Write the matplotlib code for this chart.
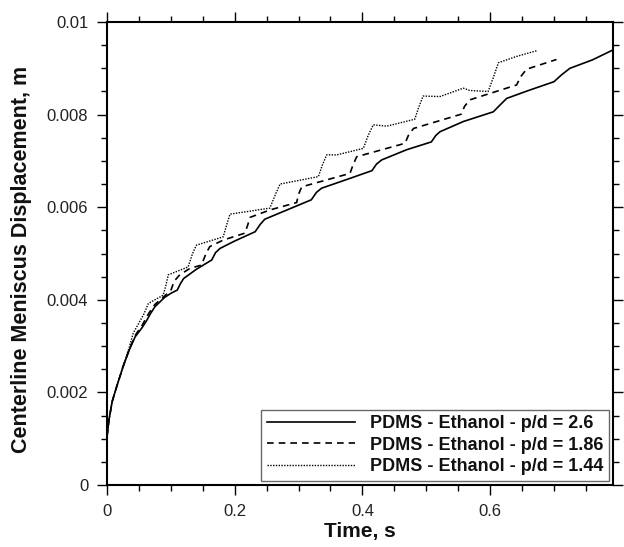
import matplotlib
matplotlib.use("Agg")
import matplotlib.pyplot as plt
from matplotlib.ticker import MultipleLocator

plt.rcParams['font.family'] = ['Liberation Sans', 'DejaVu Sans']

# Data (time s, displacement m)
t_26 = [0, 0.003, 0.008, 0.015, 0.025, 0.035, 0.044, 0.055, 0.062, 0.068, 0.075, 0.09, 0.1, 0.11,
        0.115, 0.12, 0.14, 0.164, 0.17, 0.177, 0.2, 0.232, 0.24, 0.247, 0.28, 0.32, 0.328, 0.336,
        0.38, 0.415, 0.422, 0.43, 0.469, 0.508, 0.515, 0.5215, 0.558, 0.605, 0.615, 0.626, 0.66,
        0.70, 0.712, 0.725, 0.76, 0.793]
d_26 = [0.00105, 0.0014, 0.0018, 0.00212, 0.00255, 0.00292, 0.0032, 0.0034, 0.00355, 0.0037,
        0.00385, 0.00405, 0.00414, 0.00421, 0.00435, 0.00446, 0.00466, 0.00486, 0.00502, 0.00511,
        0.00527, 0.00547, 0.00563, 0.00574, 0.00593, 0.00616, 0.00632, 0.00641, 0.00662, 0.00679,
        0.00693, 0.00702, 0.00724, 0.00741, 0.00755, 0.00763, 0.00785, 0.00806, 0.0082, 0.00835,
        0.00852, 0.00871, 0.00886, 0.009, 0.00918, 0.0094]

t_186 = [0, 0.003, 0.008, 0.015, 0.025, 0.035, 0.045, 0.055, 0.065, 0.075, 0.09, 0.1, 0.105, 0.114,
         0.13, 0.148, 0.155, 0.161, 0.182, 0.216, 0.22, 0.224, 0.255, 0.297, 0.3, 0.305, 0.3805,
         0.385, 0.391, 0.4667, 0.472, 0.48, 0.555, 0.56, 0.5685, 0.6415, 0.648, 0.657, 0.704]
d_186 = [0.00105, 0.0014, 0.0018, 0.00212, 0.00255, 0.00294, 0.00325, 0.00345, 0.0037, 0.0039,
         0.00408, 0.0042, 0.0044, 0.00454, 0.00468, 0.00475, 0.005, 0.00515, 0.00529, 0.00544,
         0.0056, 0.00578, 0.00594, 0.0061, 0.00628, 0.00644, 0.00673, 0.0069, 0.00709, 0.00738,
         0.00755, 0.0077, 0.00801, 0.00818, 0.00832, 0.00864, 0.00882, 0.00898, 0.00919]

t_144 = [0, 0.003, 0.008, 0.015, 0.025, 0.035, 0.041, 0.05, 0.058, 0.0647, 0.088, 0.092, 0.096,
         0.127, 0.134, 0.14, 0.182, 0.187, 0.1926, 0.255, 0.263, 0.271, 0.331, 0.337, 0.344, 0.36,
         0.4015, 0.409, 0.417, 0.438, 0.482, 0.488, 0.495, 0.5215, 0.558, 0.5685, 0.597, 0.605,
         0.613, 0.64, 0.673]
d_144 = [0.00105, 0.0014, 0.0018, 0.00212, 0.00256, 0.00298, 0.00328, 0.0035, 0.0037, 0.00392,
         0.0041, 0.0043, 0.00454, 0.00471, 0.005, 0.00518, 0.00536, 0.0056, 0.00585, 0.00598,
         0.00625, 0.0065, 0.00666, 0.0069, 0.00713, 0.00713, 0.00727, 0.00755, 0.00778, 0.00775,
         0.0079, 0.00815, 0.0084, 0.00839, 0.00857, 0.00852, 0.0085, 0.0088, 0.00912, 0.00925,
         0.00938]

labels = ["PDMS - Ethanol - p/d = 2.6", "PDMS - Ethanol - p/d = 1.86", "PDMS - Ethanol - p/d = 1.44"]
x_ticks = [0, 0.2, 0.4, 0.6]
x_ticklabels = ["0", "0.2", "0.4", "0.6"]
y_ticks = [0, 0.002, 0.004, 0.006, 0.008, 0.01]
y_ticklabels = ["0", "0.002", "0.004", "0.006", "0.008", "0.01"]

fig = plt.figure(figsize=(6.24, 5.47), dpi=100)
ax = fig.add_axes([0.1715, 0.1133, 0.8109, 0.8465])

ax.plot(t_26, d_26, color='black', lw=1.2, ls='-', label=labels[0])
ax.plot(t_186, d_186, color='black', lw=1.2, ls=(0, (4, 3)), label=labels[1])
ax.plot(t_144, d_144, color='black', lw=1.0, ls=(0, (1, 1)), label=labels[2])

ax.set_xlim(0, 0.7925)
ax.set_ylim(0, 0.01)
ax.set_xticks(x_ticks)
ax.set_xticklabels(x_ticklabels)
ax.set_yticks(y_ticks)
ax.set_yticklabels(y_ticklabels)
ax.xaxis.set_minor_locator(MultipleLocator(0.05))
ax.yaxis.set_minor_locator(MultipleLocator(0.0005))
ax.tick_params(which='both', direction='out', top=True, right=True, labelsize=12, width=1.0,
               pad=6, colors='black', labelcolor='#222222')
ax.tick_params(which='major', length=7.5)
ax.tick_params(which='minor', length=4.5)
for s in ax.spines.values():
    s.set_linewidth(1.5)

ax.set_xlabel("Time, s", fontsize=15, fontweight='bold', labelpad=2, color='#111111')
ax.set_ylabel("Centerline Meniscus Displacement, m", fontsize=15.5, fontweight='bold',
              color='#111111')
ax.yaxis.set_label_coords(-0.148, 0.488)

leg = ax.legend(loc='lower right', prop={'weight': 'bold', 'size': 13},
                frameon=True, fancybox=False, handlelength=4.9, borderaxespad=0.25,
                labelspacing=0.25, borderpad=0.3, handletextpad=0.8)
leg.get_frame().set_edgecolor('#444444')
leg.get_frame().set_linewidth(1.0)
for txt in leg.get_texts():
    txt.set_color('#111111')

fig.savefig("out.png", dpi=100)
